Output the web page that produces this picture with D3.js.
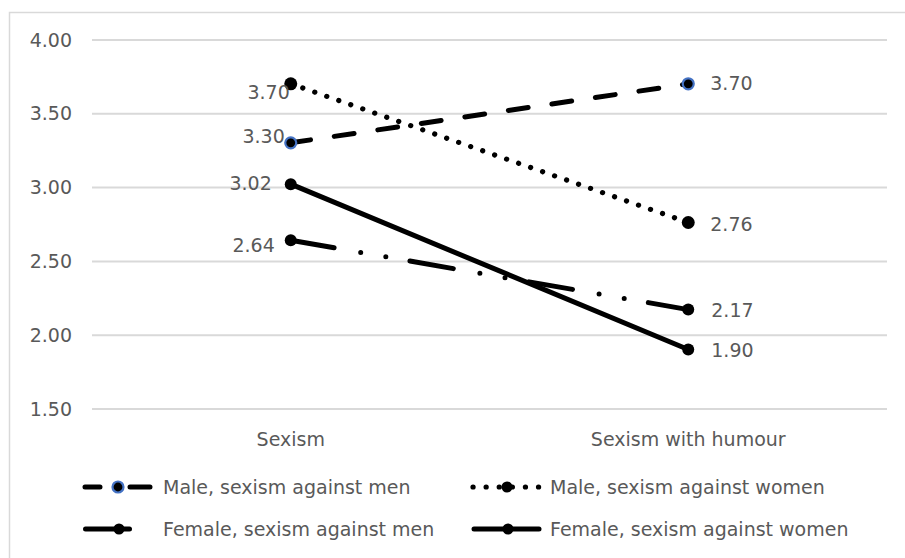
<!DOCTYPE html>
<html>
<head>
<meta charset="utf-8">
<script src="https://cdn.jsdelivr.net/npm/d3@7"></script>
<style>
  html, body { margin: 0; padding: 0; background: #fff; }
  svg { display: block; }
  text { font-family: "DejaVu Sans", "Liberation Sans", sans-serif; fill: #595959; }
</style>
</head>
<body>
<svg id="chart" width="905" height="558"></svg>
<script>
// Mean ratings per condition
const categories = ["Sexism", "Sexism with humour"];
const seriesNames = [
  "Male, sexism against men",
  "Male, sexism against women",
  "Female, sexism against men",
  "Female, sexism against women"
];
const maleAgainstMen = [3.30, 3.70];
const maleAgainstWomen = [3.70, 2.76];
const femaleAgainstMen = [2.64, 2.17];
const femaleAgainstWomen = [3.02, 1.90];
const yTicks = [1.50, 2.00, 2.50, 3.00, 3.50, 4.00];

const seriesValues = [maleAgainstMen, maleAgainstWomen, femaleAgainstMen, femaleAgainstWomen];

// Line and marker styling for each series
const styles = [
  { dash: "20 24", width: 5, ring: "#4472C4", r: 5.5, legendDash: "15 30 20" },
  { dash: "0.1 12.6", width: 5.2, ring: null, r: 6.5, legendDash: "0.1 13" },
  { dash: "44 27 0 25.5 0 24.5", width: 5, ring: null, r: 6, legendDash: "44 27 0 25.5 0 24.5" },
  { dash: null, width: 5, ring: null, r: 6, legendDash: null }
];

// Data label nudges [dx, dy] for the left and right points
const labelNudges = [
  [[-6, -6], [22, 0]],
  [[-1, 9], [22, 2]],
  [[-16, 5], [23, 1]],
  [[-19, -1], [23, 1]]
];

const svg = d3.select("#chart");
const plot = { left: 92, right: 887, top: 39.5, bottom: 408.5 };

// Chart frame
svg.append("rect")
  .attr("x", 9.5).attr("y", 12.5)
  .attr("width", 905).attr("height", 560)
  .attr("fill", "none").attr("stroke", "#d9d9d9").attr("stroke-width", 1.5);

const x = d3.scaleBand().domain(categories).range([plot.left, plot.right]);
const y = d3.scaleLinear().domain([1.5, 4]).range([plot.bottom, plot.top]);
const cx = c => x(c) + x.bandwidth() / 2;

// Value axis with gridlines
const yAxis = svg.append("g")
  .attr("transform", `translate(${plot.left},0)`)
  .call(d3.axisLeft(y).tickValues(yTicks).tickFormat(d3.format(".2f"))
    .tickSizeInner(-(plot.right - plot.left)).tickSizeOuter(0).tickPadding(20));
yAxis.select(".domain").remove();
yAxis.selectAll(".tick line").attr("stroke", "#d9d9d9").attr("stroke-width", 2);
yAxis.selectAll(".tick text")
  .attr("font-size", 19).attr("fill", "#595959").attr("font-family", "DejaVu Sans")
  .attr("dy", "0.35em");

// Category axis
const xAxis = svg.append("g")
  .attr("transform", `translate(0,${plot.bottom})`)
  .call(d3.axisBottom(x).tickSize(0));
xAxis.select(".domain").remove();
xAxis.selectAll(".tick text")
  .attr("font-size", 19).attr("fill", "#595959").attr("font-family", "DejaVu Sans")
  .attr("y", 31).attr("dy", "0.35em");

// Series lines
const line = d3.line().x((d, i) => cx(categories[i])).y(d => y(d));
seriesValues.forEach((vals, s) => {
  const st = styles[s];
  svg.append("path")
    .datum(vals)
    .attr("d", line)
    .attr("fill", "none")
    .attr("stroke", "#000")
    .attr("stroke-width", st.width)
    .attr("stroke-linecap", "round")
    .attr("stroke-dasharray", st.dash);
});

// Markers and value labels
seriesValues.forEach((vals, s) => {
  const st = styles[s];
  vals.forEach((v, i) => {
    const px = cx(categories[i]), py = y(v);
    svg.append("circle")
      .attr("cx", px).attr("cy", py).attr("r", st.r)
      .attr("fill", "#000")
      .attr("stroke", st.ring || "none")
      .attr("stroke-width", st.ring ? 2.2 : 0);
    const [dx, dy] = labelNudges[s][i];
    svg.append("text")
      .attr("x", px + dx).attr("y", py + dy)
      .attr("dy", "0.35em")
      .attr("text-anchor", i === 0 ? "end" : "start")
      .attr("font-size", 19)
      .text(d3.format(".2f")(v));
  });
});

// Legend
const legendSlots = [
  { x0: 85, x1: 150, mx: 118, tx: 163, y: 487 },
  { x0: 473, x1: 540, mx: 507, tx: 550, y: 487 },
  { x0: 85.5, x1: 152, mx: 119, tx: 163, y: 529 },
  { x0: 474, x1: 539, mx: 508, tx: 550, y: 529 }
];
seriesNames.forEach((name, s) => {
  const st = styles[s], slot = legendSlots[s];
  const g = svg.append("g");
  g.append("line")
    .attr("x1", slot.x0).attr("x2", slot.x1)
    .attr("y1", slot.y).attr("y2", slot.y)
    .attr("stroke", "#000").attr("stroke-width", st.width)
    .attr("stroke-linecap", "round")
    .attr("stroke-dasharray", st.legendDash);
  g.append("circle")
    .attr("cx", slot.mx).attr("cy", slot.y).attr("r", 5.5)
    .attr("fill", "#000")
    .attr("stroke", st.ring || "none")
    .attr("stroke-width", st.ring ? 2.2 : 0);
  g.append("text")
    .attr("x", slot.tx).attr("y", slot.y).attr("dy", "0.35em")
    .attr("font-size", 19)
    .text(name);
});
</script>
</body>
</html>
